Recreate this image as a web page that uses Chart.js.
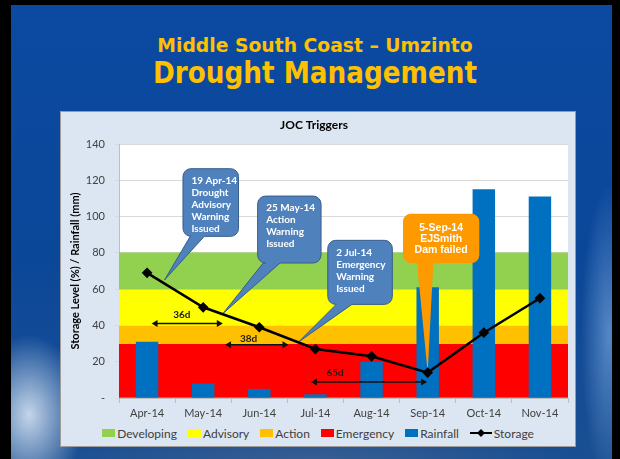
<!DOCTYPE html>
<html>
<head>
<meta charset="utf-8">
<script src="https://cdn.jsdelivr.net/npm/chart.js@4.4.1/dist/chart.umd.min.js"></script>
<style>
  html, body { margin: 0; padding: 0; background: #000; }
  body { width: 620px; height: 459px; position: relative; overflow: hidden; font-family: Lato, sans-serif; }
  #slide {
    position: absolute; left: 11px; top: 5px; width: 601px; height: 454px;
    background:
      radial-gradient(ellipse 55px 80px at 18px 410px, rgba(215,228,242,0.9), rgba(215,228,242,0) 100%),
      radial-gradient(ellipse 28px 150px at 598px 330px, rgba(130,175,228,0.6), rgba(130,175,228,0) 100%),
      radial-gradient(ellipse 260px 30px at 300px 454px, rgba(60,95,145,0.9), rgba(60,95,145,0) 100%),
      linear-gradient(180deg, #0b4aa2 0%, #0b4799 55%, #1a4f92 100%);
  }
  .title { position: absolute; left: 315px; color: #ffc000; font-family: "DejaVu Sans", sans-serif;
           font-weight: bold; white-space: nowrap; line-height: 1; transform-origin: 0 0; }
  #t1 { top: 35px; font-size: 20px; }
  #t2 { top: 58px; font-size: 30px; }
  #panel { position: absolute; left: 60px; top: 111px; width: 516px; height: 336px; box-sizing: border-box;
           background: #dce6f2; border: 1px solid #9c9c9c; }
  #wrap { position: absolute; left: 60px; top: 111px; width: 516px; height: 310px; }
  #legend { position: absolute; left: 60px; top: 425px; width: 516px; height: 16px; display: flex;
            justify-content: center; align-items: center; gap: 11px; font-size: 12px; color: #404040; }
  #legend .item { display: flex; align-items: center; gap: 2px; }
  #legend .box { display: inline-block; width: 13px; height: 8px; }
</style>
</head>
<body>
<div id="slide"></div>
<div class="title" id="t1">Middle South Coast – Umzinto</div>
<div class="title" id="t2">Drought Management</div>
<div id="panel"></div>
<div id="wrap"><canvas id="chart"></canvas></div>
<div id="legend"></div>
<script>
// data
const months = ['Apr-14', 'May-14', 'Jun-14', 'Jul-14', 'Aug-14', 'Sep-14', 'Oct-14', 'Nov-14'];
const rainfall = [31, 8, 5, 2, 20, 61, 115, 111];
const storage = [69, 50, 39, 27, 23, 14, 36, 55];
const bandNames = ['Developing', 'Advisory', 'Action', 'Emergency'];
const bandLow = [60, 40, 30, 0];
const bandHigh = [80, 60, 40, 30];
const yMax = 140;
const yStep = 20;

// callouts and gap arrows, placed in data space (category index, value)
const callouts = [
  { lines: ['19 Apr-14', 'Drought', 'Advisory', 'Warning', 'Issued'], box: [0.64, 1.63, 126.4, 89.1], base: [0.77, 1.02], tip: [0.31, 65] },
  { lines: ['25 May-14', 'Action', 'Warning', 'Issued'], box: [1.97, 3.10, 111.3, 74.4], base: [2.07, 2.37], tip: [1.35, 46.5] },
  { lines: ['2 Jul-14', 'Emergency', 'Warning', 'Issued'], box: [3.22, 4.37, 86.9, 51.6], base: [3.37, 3.65], tip: [2.70, 30.9] },
  { lines: ['5-Sep-14', 'EJSmith', 'Dam failed'], box: [4.56, 5.92, 101.6, 74.4], base: [4.81, 5.10], tip: [5, 14], orange: true }
];
const gaps = [
  { label: '36d', from: 0.08, to: 1.35, at: 41, tx: 0.62, ty: 45.6 },
  { label: '38d', from: 1.39, to: 2.52, at: 29.4, tx: 1.81, ty: 32.8 },
  { label: '65d', from: 2.92, to: 4.99, at: 8.8, tx: 3.35, ty: 14 }
];

const bandColors = ['#92d050', '#ffff00', '#ffc000', '#ff0000'];
const rainColor = '#0070c0';

function drawCallout(ctx, xs, ys, c) {
  const x0 = xs.getPixelForValue(c.box[0]), x1 = xs.getPixelForValue(c.box[1]);
  const y0 = ys.getPixelForValue(c.box[2]), y1 = ys.getPixelForValue(c.box[3]);
  const b0 = xs.getPixelForValue(c.base[0]), b1 = xs.getPixelForValue(c.base[1]);
  const tx = xs.getPixelForValue(c.tip[0]), ty = ys.getPixelForValue(c.tip[1]);
  const r = 8;
  ctx.save();
  ctx.beginPath();
  ctx.moveTo(x0 + r, y0);
  ctx.arcTo(x1, y0, x1, y1, r);
  ctx.arcTo(x1, y1, x0, y1, r);
  ctx.lineTo(b1, y1);
  ctx.lineTo(tx, ty);
  ctx.lineTo(b0, y1);
  ctx.arcTo(x0, y1, x0, y0, r);
  ctx.arcTo(x0, y0, x1, y0, r);
  ctx.closePath();
  ctx.fillStyle = c.orange ? '#ff9900' : '#4f81bd';
  ctx.fill();
  if (!c.orange) {
    ctx.strokeStyle = '#385d8a';
    ctx.lineWidth = 1;
    ctx.stroke();
  }
  ctx.fillStyle = '#fff';
  ctx.textBaseline = 'middle';
  if (c.orange) {
    ctx.font = 'bold 10.5px "Liberation Sans", Arial, sans-serif';
    ctx.textAlign = 'center';
    c.lines.forEach((t, i) => ctx.fillText(t, (x0 + x1) / 2, y0 + 14 + i * 11.3));
  } else {
    ctx.font = 'bold 10px Lato, sans-serif';
    ctx.textAlign = 'left';
    c.lines.forEach((t, i) => ctx.fillText(t, x0 + 8.5, y0 + 12 + i * 12));
  }
  ctx.restore();
}

function arrowHead(ctx, x, y, dir) {
  ctx.beginPath();
  ctx.moveTo(x, y);
  ctx.lineTo(x - dir * 6, y - 3.5);
  ctx.lineTo(x - dir * 6, y + 3.5);
  ctx.closePath();
  ctx.fill();
}

function drawGap(ctx, xs, ys, g) {
  const a = xs.getPixelForValue(g.from), b = xs.getPixelForValue(g.to);
  const y = ys.getPixelForValue(g.at);
  ctx.save();
  ctx.strokeStyle = '#111';
  ctx.fillStyle = '#111';
  ctx.lineWidth = 1.5;
  ctx.beginPath();
  ctx.moveTo(a + 3, y);
  ctx.lineTo(b - 3, y);
  ctx.stroke();
  arrowHead(ctx, a, y, -1);
  arrowHead(ctx, b, y, 1);
  ctx.font = 'bold 10px Lato, sans-serif';
  ctx.textAlign = 'center';
  ctx.textBaseline = 'middle';
  ctx.fillStyle = '#1a1a1a';
  ctx.fillText(g.label, xs.getPixelForValue(g.tx), ys.getPixelForValue(g.ty));
  ctx.restore();
}

const overlays = {
  id: 'overlays',
  beforeDraw(chart) {
    const a = chart.chartArea, ctx = chart.ctx;
    ctx.save();
    ctx.fillStyle = '#fff';
    ctx.fillRect(a.left, a.top, a.right - a.left, a.bottom - a.top);
    ctx.restore();
  },
  afterDatasetDraw(chart, args) {
    if (args.index !== bandNames.length) return;
    const xs = chart.scales.x, ys = chart.scales.y, ctx = chart.ctx;
    gaps.forEach(g => drawGap(ctx, xs, ys, g));
    callouts.forEach(c => drawCallout(ctx, xs, ys, c));
  }
};

Chart.defaults.font.family = 'Lato, sans-serif';
Chart.defaults.color = '#595959';

const bandSets = bandNames.map((name, i) => ({
  type: 'bar',
  label: name,
  xAxisID: 'xb',
  data: [[bandLow[i], bandHigh[i]]],
  backgroundColor: bandColors[i],
  grouped: false,
  barPercentage: 1,
  categoryPercentage: 1,
  order: 2
}));

new Chart(document.getElementById('chart'), {
  type: 'bar',
  data: {
    labels: months,
    datasets: [
      ...bandSets,
      {
        type: 'bar',
        label: 'Rainfall',
        data: rainfall,
        backgroundColor: rainColor,
        grouped: false,
        barPercentage: 0.5,
        categoryPercentage: 0.8,
        order: 1
      },
      {
        type: 'line',
        label: 'Storage',
        data: storage,
        borderColor: '#000',
        borderWidth: 2.5,
        pointStyle: 'rectRot',
        pointRadius: 3.6,
        pointBackgroundColor: '#000',
        pointBorderColor: '#000',
        tension: 0,
        order: 0
      }
    ]
  },
  options: {
    responsive: true,
    maintainAspectRatio: false,
    animation: false,
    layout: { padding: { left: 0, right: 8, top: 0, bottom: 0 } },
    plugins: {
      legend: { display: false },
      tooltip: { enabled: false },
      title: {
        display: true,
        text: 'JOC Triggers',
        color: '#000',
        font: { size: 12, weight: 'bold' },
        padding: { top: 6.8, bottom: 11.8 }
      }
    },
    scales: {
      x: {
        offset: true,
        grid: { offset: true, drawOnChartArea: false, tickLength: 5, color: '#bfbfbf' },
        border: { color: '#bfbfbf' },
        ticks: { padding: 4, font: { size: 11 }, color: '#404040' },
        afterFit: s => { s.height = 23; }
      },
      xb: {
        type: 'category',
        labels: ['all'],
        offset: true,
        display: false
      },
      y: {
        min: 0,
        max: yMax,
        ticks: {
          stepSize: yStep,
          padding: 10,
          font: { size: 11 },
          color: '#404040',
          callback: v => v === 0 ? '-' : v
        },
        grid: { color: '#d9d9d9', tickLength: 4 },
        border: { color: '#bfbfbf' },
        title: {
          display: true,
          text: 'Storage Level (%) / Rainfall (mm)',
          color: '#000',
          font: { size: 11, weight: 'bold' },
          padding: { top: 8.7, bottom: 0 }
        },
        afterFit: s => { s.width = 59; }
      }
    }
  },
  plugins: [overlays]
});

// legend
const legend = document.getElementById('legend');
bandNames.concat(['Rainfall']).forEach((name, i) => {
  const item = document.createElement('span');
  item.className = 'item';
  const col = i < bandNames.length ? bandColors[i] : rainColor;
  item.innerHTML = '<span class="box" style="background:' + col + '"></span>' + name;
  legend.appendChild(item);
});
const st = document.createElement('span');
st.className = 'item';
st.innerHTML = '<svg width="22" height="10"><line x1="0" y1="5" x2="22" y2="5" stroke="#000" stroke-width="2"/>' +
  '<path d="M11 1 L15 5 L11 9 L7 5 Z" fill="#000"/></svg>Storage';
legend.appendChild(st);

// fit title lines to the slide's widths
[['t1', 315], ['t2', 324]].forEach(([id, w]) => {
  const el = document.getElementById(id);
  const k = w / el.offsetWidth;
  el.style.transform = 'scaleX(' + k + ') translateX(-50%)';
});
</script>
</body>
</html>
